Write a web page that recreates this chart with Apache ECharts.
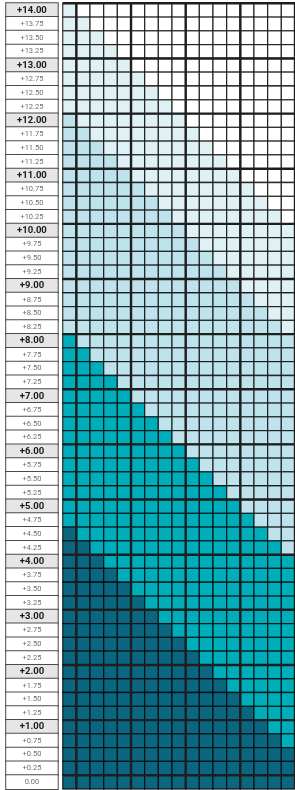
<!DOCTYPE html>
<html>
<head>
<meta charset="utf-8">
<style>
  html, body { margin: 0; padding: 0; background: #fff; }
  #chart { width: 295px; height: 790px; }
</style>
<script src="https://cdn.jsdelivr.net/npm/echarts@6/dist/echarts.min.js"></script>
</head>
<body>
<div id="chart"></div>
<script>
// row labels, top to bottom
var rowLabels = [
  '+14.00', '+13.75', '+13.50', '+13.25',
  '+13.00', '+12.75', '+12.50', '+12.25',
  '+12.00', '+11.75', '+11.50', '+11.25',
  '+11.00', '+10.75', '+10.50', '+10.25',
  '+10.00', '+9.75', '+9.50', '+9.25',
  '+9.00', '+8.75', '+8.50', '+8.25',
  '+8.00', '+7.75', '+7.50', '+7.25',
  '+7.00', '+6.75', '+6.50', '+6.25',
  '+6.00', '+5.75', '+5.50', '+5.25',
  '+5.00', '+4.75', '+4.50', '+4.25',
  '+4.00', '+3.75', '+3.50', '+3.25',
  '+3.00', '+2.75', '+2.50', '+2.25',
  '+2.00', '+1.75', '+1.50', '+1.25',
  '+1.00', '+0.75', '+0.50', '+0.25',
  '0.00'
];

// columns, left to right (not labelled in the picture)
var colLabels = [
  '0.00', '-0.25', '-0.50', '-0.75', '-1.00', '-1.25', '-1.50', '-1.75', '-2.00',
  '-2.25', '-2.50', '-2.75', '-3.00', '-3.25', '-3.50', '-3.75', '-4.00'
];

// how many cells from the left each colour band covers, per row
var paleCols = [
  1, 2, 3, 4,
  5, 6, 7, 8,
  9, 10, 11, 12,
  13, 14, 15, 16,
  17, 17, 17, 17,
  17, 17, 17, 17,
  17, 17, 17, 17,
  17, 17, 17, 17,
  17, 17, 17, 17,
  17, 17, 17, 17,
  17, 17, 17, 17,
  17, 17, 17, 17,
  17, 17, 17, 17,
  17, 17, 17, 17,
  17
];
var lightCols = [
  0, 0, 0, 0,
  0, 0, 0, 0,
  1, 2, 3, 4,
  5, 6, 7, 8,
  9, 10, 11, 12,
  13, 14, 15, 16,
  17, 17, 17, 17,
  17, 17, 17, 17,
  17, 17, 17, 17,
  17, 17, 17, 17,
  17, 17, 17, 17,
  17, 17, 17, 17,
  17, 17, 17, 17,
  17, 17, 17, 17,
  17
];
var tealCols = [
  0, 0, 0, 0,
  0, 0, 0, 0,
  0, 0, 0, 0,
  0, 0, 0, 0,
  0, 0, 0, 0,
  0, 0, 0, 0,
  1, 2, 3, 4,
  5, 6, 7, 8,
  9, 10, 11, 12,
  13, 14, 15, 16,
  17, 17, 17, 17,
  17, 17, 17, 17,
  17, 17, 17, 17,
  17, 17, 17, 17,
  17
];
var darkCols = [
  0, 0, 0, 0,
  0, 0, 0, 0,
  0, 0, 0, 0,
  0, 0, 0, 0,
  0, 0, 0, 0,
  0, 0, 0, 0,
  0, 0, 0, 0,
  0, 0, 0, 0,
  0, 0, 0, 0,
  0, 0, 1, 2,
  3, 4, 5, 6,
  7, 8, 9, 10,
  11, 12, 13, 14,
  15, 16, 17, 17,
  17
];

var palette = ['#ffffff', '#dff1f4', '#bee3ec', '#00adba', '#0b6680'];

var cells = [];
rowLabels.forEach(function (lab, r) {
  colLabels.forEach(function (c, ci) {
    var lvl = 0;
    if (ci < darkCols[r]) lvl = 4;
    else if (ci < tealCols[r]) lvl = 3;
    else if (ci < lightCols[r]) lvl = 2;
    else if (ci < paleCols[r]) lvl = 1;
    cells.push([ci, r, lvl]);
  });
});

function isWhole(s) {
  return /\.00$/.test(s);
}
// thick lines: right of every whole column, above every whole row
var colBreaks = [];
colLabels.forEach(function (c, i) { if (isWhole(c)) colBreaks.push([i, 0]); });
var rowBreaks = [];
rowLabels.forEach(function (s, i) { if (isWhole(s)) rowBreaks.push([0, i]); });

var chart = echarts.init(document.getElementById('chart'), null, { renderer: 'canvas' });

chart.setOption({
  animation: false,
  grid: { left: 62.7, top: 3.3, width: 235.2, height: 788 },
  xAxis: {
    type: 'category',
    data: colLabels,
    axisLine: { show: false },
    axisTick: { show: false },
    axisLabel: { show: false },
    splitLine: { show: false }
  },
  yAxis: {
    type: 'category',
    data: rowLabels,
    inverse: true,
    axisLine: { show: false },
    axisTick: { show: false },
    splitLine: { show: false },
    axisLabel: {
      interval: 0,
      margin: 5,
      formatter: function (v) {
        return (isWhole(v) && v !== '0.00') ? '{b|' + v + '}' : '{n|' + v + '}';
      },
      rich: {
        b: {
          width: 51.5, height: 13.8, align: 'center', verticalAlign: 'middle',
          backgroundColor: '#e6e6e6', borderColor: '#4a4a4a', borderWidth: 1,
          fontFamily: 'Roboto', fontSize: 9.5, fontWeight: 'bold', color: '#1a1a1a'
        },
        n: {
          width: 51.5, height: 13.8, align: 'center', verticalAlign: 'middle',
          backgroundColor: '#ffffff', borderColor: '#4a4a4a', borderWidth: 1,
          fontFamily: 'Roboto', fontSize: 7.5, color: '#6e6e6e'
        }
      }
    }
  },
  series: [
    {
      type: 'custom',
      data: cells,
      z: 2,
      renderItem: function (params, api) {
        var p = api.coord([api.value(0), api.value(1)]);
        var s = api.size([1, 1]);
        return {
          type: 'rect',
          shape: { x: p[0] - s[0] / 2, y: p[1] - s[1] / 2, width: s[0], height: s[1] },
          style: { fill: palette[api.value(2)], stroke: 'rgba(0,0,0,0.72)', lineWidth: 1.3 }
        };
      }
    },
    {
      type: 'custom',
      data: colBreaks,
      z: 3,
      renderItem: function (params, api) {
        var p = api.coord([api.value(0), 0]);
        var s = api.size([1, 1]);
        var x = p[0] + s[0] / 2;
        var cs = params.coordSys;
        return {
          type: 'line',
          shape: { x1: x, y1: cs.y, x2: x, y2: cs.y + cs.height },
          style: { stroke: '#1e1e1e', lineWidth: 2.4 }
        };
      }
    },
    {
      type: 'custom',
      data: rowBreaks,
      z: 3,
      renderItem: function (params, api) {
        var p = api.coord([0, api.value(1)]);
        var s = api.size([1, 1]);
        var y = p[1] - s[1] / 2;
        var cs = params.coordSys;
        return {
          type: 'line',
          shape: { x1: cs.x, y1: y, x2: cs.x + cs.width, y2: y },
          style: { stroke: '#1e1e1e', lineWidth: 2.4 }
        };
      }
    }
  ]
});
</script>
</body>
</html>
